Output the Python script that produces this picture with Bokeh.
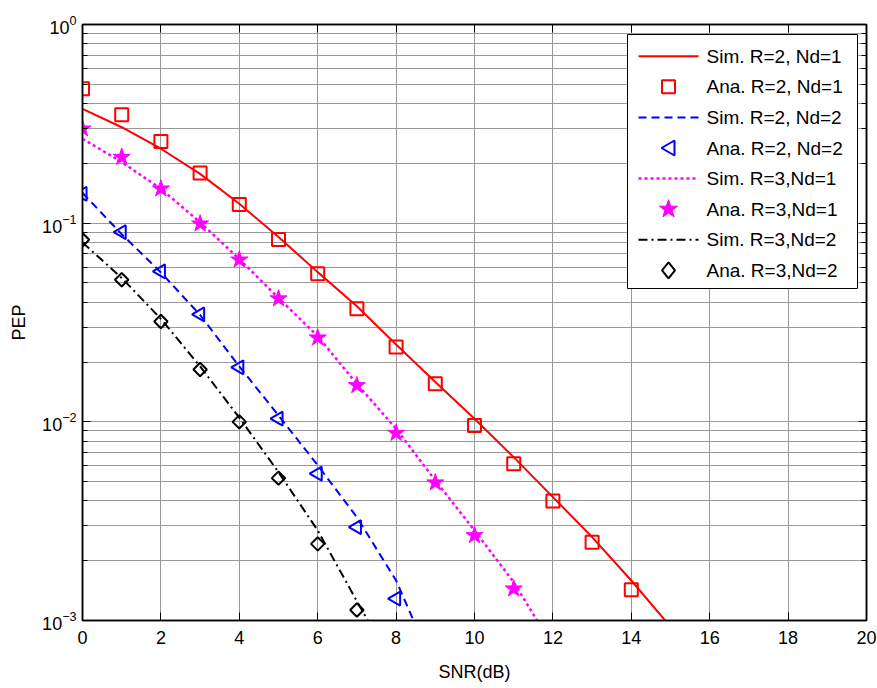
import numpy as np
from bokeh.plotting import figure
from bokeh.models import (LogAxis, LinearAxis, Range1d, SingleIntervalTicker, FixedTicker,
                          CustomJSTickFormatter, BoxAnnotation, PolyAnnotation, Arrow, Label)
from bokeh.embed import file_html
from bokeh.resources import INLINE

# ---- data: pairwise error probability vs SNR ----
snr_sim_r2_nd1 = list(range(16))
pep_sim_r2_nd1 = [0.376, 0.304, 0.237, 0.177, 0.1252, 0.0851, 0.0567, 0.0382,
                  0.0245, 0.01585, 0.01037, 0.00664, 0.00418, 0.00263, 0.00159, 0.00093]
snr_ana_r2_nd1 = list(range(15))
pep_ana_r2_nd1 = [0.475, 0.351, 0.258, 0.179, 0.124, 0.0828, 0.0556, 0.0371,
                  0.0238, 0.01555, 0.00959, 0.00615, 0.00399, 0.00248, 0.00143]

snr_sim_r2_nd2 = list(range(10))
pep_sim_r2_nd2 = [0.142, 0.088, 0.0565, 0.0345, 0.019, 0.01077, 0.00604, 0.00331,
                  0.00159, 0.00056]
snr_ana_r2_nd2 = list(range(9))
pep_ana_r2_nd2 = [0.1406, 0.0901, 0.0572, 0.0347, 0.0188, 0.01037, 0.00548, 0.00295,
                  0.00129]

snr_sim_r3_nd1 = list(range(13))
pep_sim_r3_nd1 = [0.266, 0.203, 0.149, 0.101, 0.066, 0.042, 0.027, 0.0155, 0.00923,
                  0.00507, 0.00284, 0.00156, 0.00074]
snr_ana_r3_nd1 = list(range(12))
pep_ana_r3_nd1 = [0.2985, 0.215, 0.149, 0.0993, 0.0654, 0.0417, 0.0265, 0.01525,
                  0.00877, 0.00494, 0.00268, 0.001445]

snr_sim_r3_nd2 = list(range(9))
pep_sim_r3_nd2 = [0.080, 0.053, 0.033, 0.019, 0.0105, 0.00558, 0.00284, 0.00125, 0.00056]
snr_ana_r3_nd2 = list(range(8))
pep_ana_r3_nd2 = [0.0825, 0.0519, 0.032, 0.01835, 0.0100, 0.00521, 0.00243, 0.00113]

legend_labels = ["Sim. R=2, Nd=1", "Ana. R=2, Nd=1",
                 "Sim. R=2, Nd=2", "Ana. R=2, Nd=2",
                 "Sim. R=3,Nd=1", "Ana. R=3,Nd=1",
                 "Sim. R=3,Nd=2", "Ana. R=3,Nd=2"]

FONT = "Liberation Sans"
RED, BLUE, MAGENTA, BLACK = "#ff0000", "#0000ff", "#ff00ff", "#000000"

p = figure(width=877, height=688, x_range=Range1d(0, 20), y_range=Range1d(1e-3, 1),
           y_axis_type="log", output_backend="svg", toolbar_location=None,
           min_border_left=82, min_border_right=11, min_border_top=24,
           min_border_bottom=68, background_fill_color="white",
           border_fill_color="white")

bottom_axis = p.xaxis[0]
left_axis = p.yaxis[0]

# ticks
x_ticker = SingleIntervalTicker(interval=2, num_minor_ticks=0)
y_major = [10.0 ** e for e in range(-3, 1)]
y_minor = [m * 10.0 ** e for e in range(-3, 0) for m in range(2, 10)]
y_ticker = FixedTicker(ticks=y_major, minor_ticks=y_minor)

bottom_axis.ticker = x_ticker
left_axis.ticker = y_ticker
p.xgrid.ticker = x_ticker
p.ygrid.ticker = y_ticker

blank = CustomJSTickFormatter(code="return ''")
top_axis = LinearAxis(ticker=x_ticker, formatter=blank)
right_axis = LogAxis(ticker=y_ticker, formatter=blank)
p.add_layout(top_axis, "above")
p.add_layout(right_axis, "right")

for ax in [bottom_axis, left_axis, top_axis, right_axis]:
    ax.axis_line_color = "black"
    ax.axis_line_width = 1.5
    ax.major_tick_in = 8
    ax.major_tick_out = 0
    ax.minor_tick_in = 5
    ax.minor_tick_out = 0
    ax.major_tick_line_color = "black"
    ax.minor_tick_line_color = "black"
    ax.major_label_text_font = FONT
    ax.major_label_text_font_size = "18px"
    ax.major_label_text_color = "black"

for ax in [top_axis, right_axis]:
    ax.major_label_standoff = 0
    ax.major_label_text_font_size = "1px"

bottom_axis.major_label_standoff = 10
left_axis.major_label_standoff = 6
bottom_axis.axis_label = "SNR(dB)"
left_axis.axis_label = "PEP"
for ax in [bottom_axis, left_axis]:
    ax.axis_label_text_font = FONT
    ax.axis_label_text_font_size = "18px"
    ax.axis_label_text_font_style = "normal"
    ax.axis_label_text_color = "black"
bottom_axis.axis_label_standoff = 15
left_axis.axis_label_standoff = 10

p.outline_line_color = "black"
p.outline_line_width = 1.5

p.xgrid.grid_line_color = "#999999"
p.ygrid.grid_line_color = "#999999"
p.ygrid.minor_grid_line_color = "#999999"

# ---- curves and markers ----
line_styles = [dict(line_color=RED, line_width=2, line_dash="solid"),
               dict(line_color=BLUE, line_width=2, line_dash="8 5"),
               dict(line_color=MAGENTA, line_width=2.5, line_dash="3 3"),
               dict(line_color=BLACK, line_width=2, line_dash="9 4 2 4")]

p.line(snr_sim_r2_nd1, pep_sim_r2_nd1, **line_styles[0])
p.scatter(snr_ana_r2_nd1, pep_ana_r2_nd1, marker="square", size=13,
          line_color=RED, line_width=2, fill_color=None)
p.line(snr_sim_r2_nd2, pep_sim_r2_nd2, **line_styles[1])
p.scatter(snr_ana_r2_nd2, pep_ana_r2_nd2, marker="triangle", angle=np.pi / 2,
          size=14, line_color=BLUE, line_width=2, fill_color=None)
p.line(snr_sim_r3_nd1, pep_sim_r3_nd1, **line_styles[2])
p.scatter(snr_ana_r3_nd1, pep_ana_r3_nd1, marker="star", size=18,
          line_color=MAGENTA, line_width=1, fill_color=MAGENTA)
p.line(snr_sim_r3_nd2, pep_sim_r3_nd2, **line_styles[3])
p.scatter(snr_ana_r3_nd2, pep_ana_r3_nd2, marker="square", angle=np.pi / 4,
          size=9.5, line_color=BLACK, line_width=2, fill_color=None)

# ---- legend box (frame-relative screen units, y measured upward) ----
frame_h = 596
box_left, box_right = 545, 775
box_top, box_bottom = frame_h - 10, frame_h - 264
row_first, row_step = 21.7, 30.6
glyph_x0, glyph_x1, text_x = 556, 616, 624
glyph_xc = (glyph_x0 + glyph_x1) / 2

p.add_layout(BoxAnnotation(left=box_left, right=box_right, top=box_top, bottom=box_bottom,
                           left_units="screen", right_units="screen",
                           top_units="screen", bottom_units="screen",
                           fill_color="white", fill_alpha=1.0,
                           line_color="black", line_alpha=1.0, line_width=1))


def marker_outline(kind, cx, cy):
    if kind == "square":
        h = 6.5
        return [cx - h, cx + h, cx + h, cx - h], [cy - h, cy - h, cy + h, cy + h]
    if kind == "left_triangle":
        return [cx - 7, cx + 6, cx + 6], [cy, cy + 7.5, cy - 7.5]
    if kind == "star":
        ang = np.pi / 2 + np.arange(10) * np.pi / 5
        rad = np.where(np.arange(10) % 2 == 0, 9.5, 3.8)
        return list(cx + rad * np.cos(ang)), list(cy + rad * np.sin(ang))
    # diamond
    return [cx, cx + 6.5, cx, cx - 6.5], [cy + 8, cy, cy - 8, cy]


marker_specs = [("square", RED, False), ("left_triangle", BLUE, False),
                ("star", MAGENTA, True), ("diamond", BLACK, False)]

for i, label in enumerate(legend_labels):
    cy = box_top - row_first - row_step * i
    series = i // 2
    if i % 2 == 0:
        st = line_styles[series]
        p.add_layout(Arrow(x_start=glyph_x0, y_start=cy, x_end=glyph_x1, y_end=cy,
                           start_units="screen", end_units="screen",
                           start=None, end=None, **st))
    else:
        kind, color, filled = marker_specs[series]
        xs, ys = marker_outline(kind, glyph_xc, cy)
        p.add_layout(PolyAnnotation(xs=xs, ys=ys, xs_units="screen", ys_units="screen",
                                    line_color=color, line_alpha=1.0,
                                    line_width=1 if filled else 2,
                                    fill_color=color if filled else None,
                                    fill_alpha=1.0 if filled else 0.0))
    p.add_layout(Label(x=text_x, y=cy, x_units="screen", y_units="screen", text=label,
                       text_font=FONT, text_font_size="19px", text_color="black",
                       text_baseline="middle", text_align="left"))

open("out.html", "w").write(file_html(p, INLINE))
